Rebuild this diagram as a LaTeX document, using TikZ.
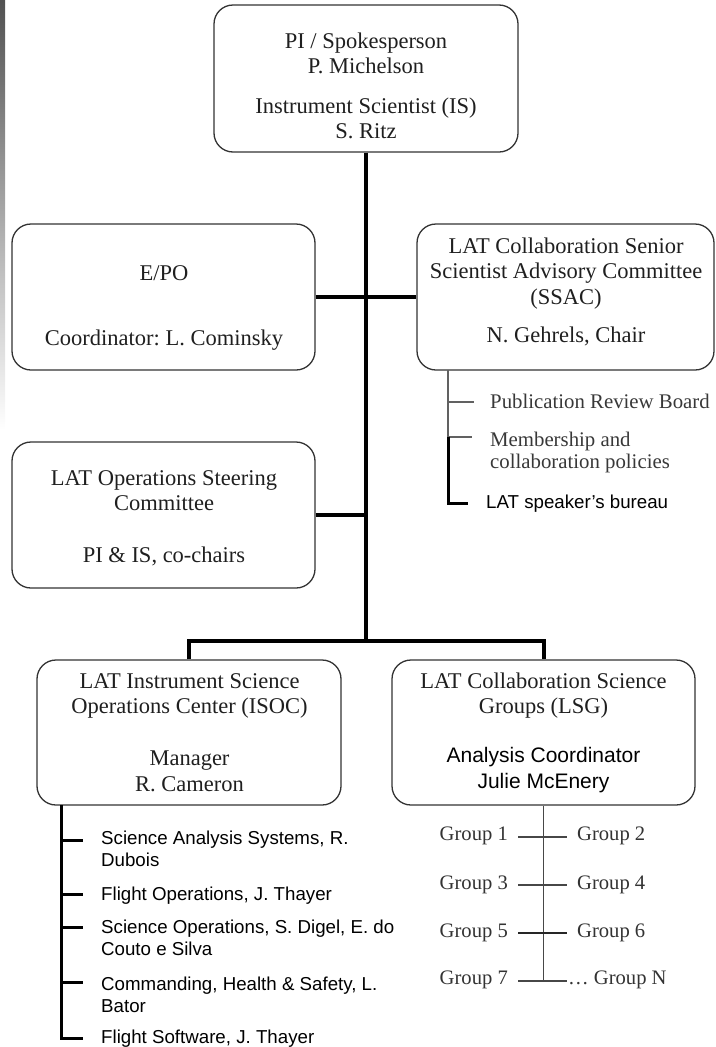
\documentclass[tikz,border=0pt]{standalone}
\usepackage{fontspec}
\setmainfont{Liberation Serif}
\setsansfont{Liberation Sans}
\frenchspacing
\newcommand\bxfont{\fontsize{22.5}{25.5}\selectfont}
\newcommand\bxsans{\sffamily\fontsize{21}{26}\selectfont}
\newcommand\itsans{\sffamily\fontsize{18.7}{22}\selectfont}
\newcommand\grpfont{\fontsize{20.6}{24}\selectfont}
\newcommand\subserif{\fontsize{20.8}{22.5}\selectfont}
\newcommand\boxlines[1]{\begin{tabular}[t]{@{}c@{}}#1\end{tabular}}
\newcommand\leftlines[1]{\begin{tabular}[t]{@{}l@{}}#1\end{tabular}}
\begin{document}
\begin{tikzpicture}[x=1pt,y=-1pt,
  box/.style={draw=black!80,line width=1.3pt,rounded corners=19pt,inner sep=0pt},
  boxtext/.style={inner sep=0pt,anchor=base,font=\bxfont,text=black!88},
  trunk/.style={line width=4pt,black},
  branch/.style={line width=3pt,black},
  twig/.style={line width=1.4pt,black!62},
  grptick/.style={line width=1.6pt,black!72},
  item/.style={inner sep=0pt,anchor=base west,font=\itsans,text=black},
  subitem/.style={inner sep=0pt,anchor=base west,font=\subserif,text=black!78},
  grpl/.style={inner sep=0pt,anchor=base east,font=\grpfont,text=black!80},
  grpr/.style={inner sep=0pt,anchor=base west,font=\grpfont,text=black!80}]
\useasboundingbox (0,0) rectangle (715,1047);
\shade[top color=black!68,bottom color=white] (0,0) rectangle (5,430);

% boxes
\node[box,minimum width=304pt,minimum height=147pt] (pi) at (366,78.5) {};
\node[boxtext] (pit) at (366,48) {\boxlines{PI / Spokesperson\\P. Michelson\\[14pt]Instrument Scientist (IS)\\S. Ritz}};

\node[box,minimum width=303pt,minimum height=146pt] (epo) at (163.5,297) {};
\node[boxtext] (epot) at (164,280) {\boxlines{E/PO\\[39.5pt]Coordinator: L. Cominsky}};

\node[box,minimum width=297pt,minimum height=146pt] (ssac) at (565.5,297) {};
\node[boxtext] (ssact) at (566,253) {\boxlines{LAT Collaboration Senior\\Scientist Advisory Committee\\(SSAC)\\[12.5pt]N. Gehrels, Chair}};

\node[box,minimum width=303pt,minimum height=146pt] (ops) at (163.5,515) {};
\node[boxtext] (opst) at (164,485) {\boxlines{LAT Operations Steering\\Committee\\[26.5pt]PI \& IS, co-chairs}};

\node[box,minimum width=304pt,minimum height=145pt] (isoc) at (189,732.5) {};
\node[boxtext] (isoct) at (189.5,688) {\boxlines{LAT Instrument Science\\Operations Center (ISOC)\\[26.5pt]Manager\\R. Cameron}};

\node[box,minimum width=303pt,minimum height=145pt] (lsg) at (543.5,732.5) {};
\node[boxtext] (lsgt) at (543.5,688) {\boxlines{LAT Collaboration Science\\Groups (LSG)}};
\node[boxtext,font=\bxsans,text=black] (lsgs) at (543.5,762) {\boxlines{Analysis Coordinator\\Julie McEnery}};

% main connectors
\coordinate (hub) at (366,640.5);
\draw[trunk] (pi.south) -- (hub);
\draw[trunk] (epo.east) -- (epo.east -| ssac.west);
\draw[trunk] (ops.east) -- (ops.east -| pi.south);
\draw[trunk] (isoc.north) |- (hub) -| (lsg.north);

% SSAC list
\coordinate (sv) at (448,370);
\coordinate (sm) at (448,437);
\coordinate (s1) at (474,402);
\coordinate (s2) at (472,437);
\coordinate (s3) at (468,503);
\draw[twig] (sv) -- (sm);
\draw[twig] (sv |- s1) -- (s1);
\draw[twig] (sm) -- (s2);
\draw[branch] (sm) |- (s3);
\node[subitem] (prb) at (490,408) {Publication Review Board};
\node[subitem] (mcp) at (490,446) {\leftlines{Membership and\\collaboration policies}};
\node[item] (lsb) at (486,508) {LAT speaker’s bureau};

% ISOC list
\coordinate (iv) at (61,805);
\coordinate (t1) at (83,840);
\coordinate (t2) at (83,894);
\coordinate (t3) at (83,927);
\coordinate (t4) at (83,982);
\coordinate (t5) at (83,1038);
\draw[branch] (iv) |- (t5);
\foreach \t in {t1,t2,t3,t4} \draw[branch] (iv |- \t) -- (\t);
\node[item] (i1) at (101,844) {\leftlines{Science Analysis Systems, R.\\Dubois}};
\node[item] (i2) at (101,900) {Flight Operations, J. Thayer};
\node[item] (i3) at (101,933) {\leftlines{Science Operations, S. Digel, E. do\\Couto e Silva}};
\node[item] (i4) at (101,990) {\leftlines{Commanding, Health \& Safety, L.\\Bator}};
\node[item] (i5) at (101,1043) {Flight Software, J. Thayer};

% LSG groups
\coordinate (ga1) at (518,837); \coordinate (gb1) at (567,837);
\coordinate (ga2) at (518,885); \coordinate (gb2) at (567,885);
\coordinate (ga3) at (518,933); \coordinate (gb3) at (567,933);
\coordinate (ga4) at (518,981); \coordinate (gb4) at (567,981);
\draw[grptick] (lsg.south) -- (lsg.south |- ga4);
\draw[grptick] (ga1) -- (gb1);
\draw[grptick] (ga2) -- (gb2);
\draw[grptick,line width=2.6pt,black!85] (ga3) -- (gb3);
\draw[grptick] (ga4) -- (gb4);
\node[grpl] (g1) at (508,840) {Group 1};
\node[grpr] (g2) at (577,840) {Group 2};
\node[grpl] (g3) at (508,889) {Group 3};
\node[grpr] (g4) at (577,889) {Group 4};
\node[grpl] (g5) at (508,937) {Group 5};
\node[grpr] (g6) at (577,937) {Group 6};
\node[grpl] (g7) at (508,984) {Group 7};
\node[grpr] (gn) at (568,984) {… Group N};
\end{tikzpicture}
\end{document}
